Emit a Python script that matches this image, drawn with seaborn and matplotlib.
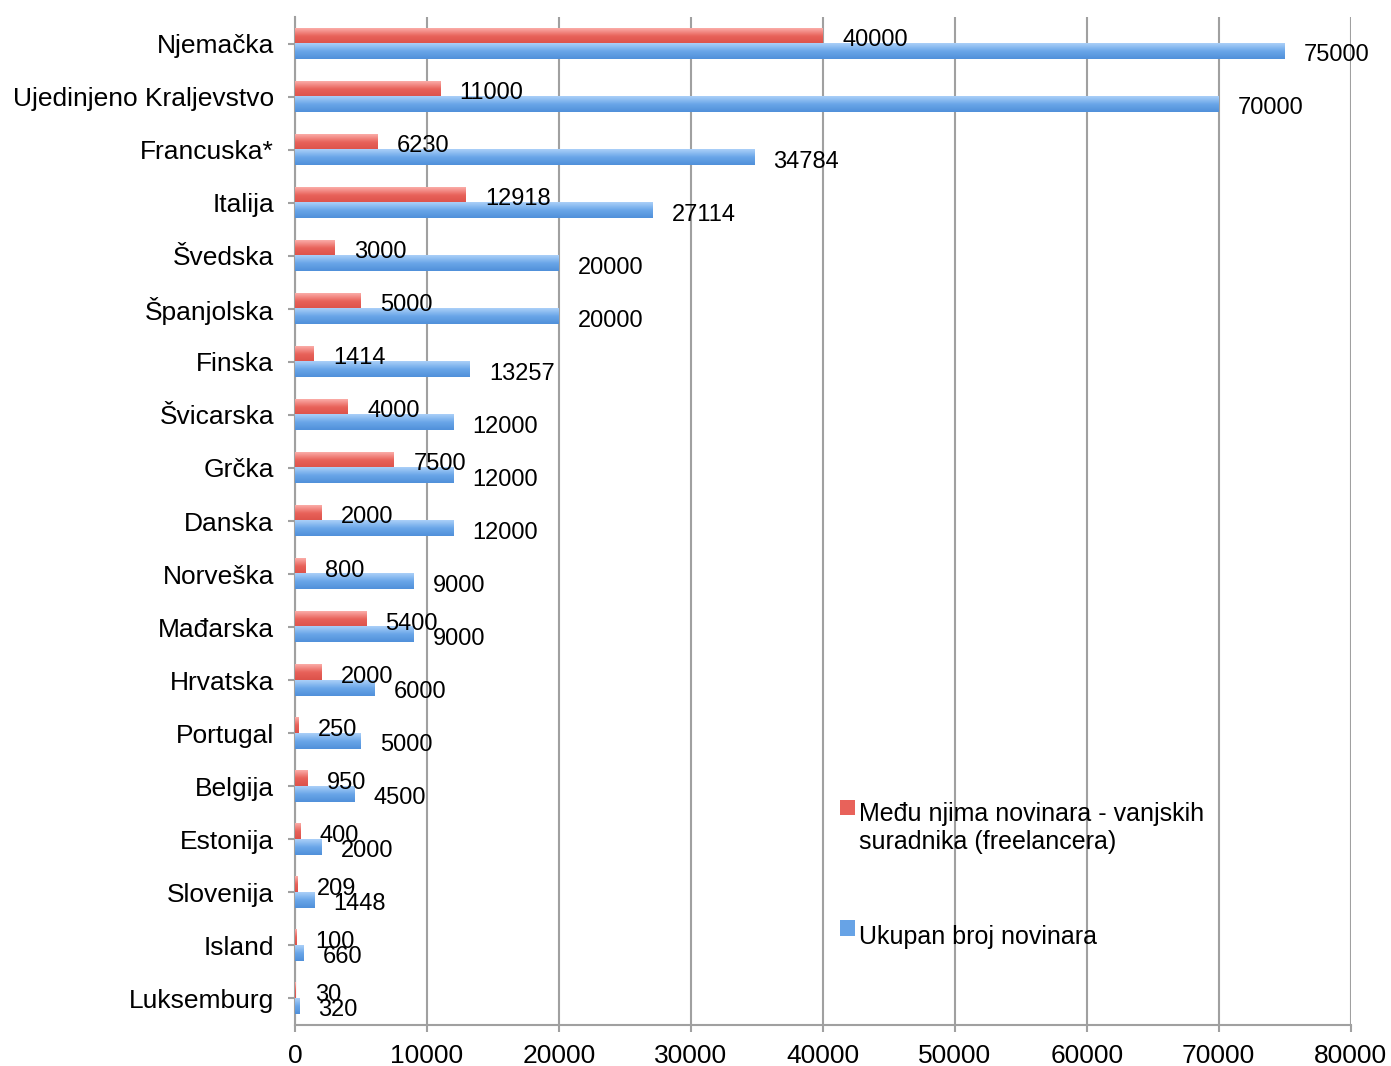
import numpy as np
import pandas as pd
import matplotlib
matplotlib.use("Agg")
import matplotlib.pyplot as plt
from matplotlib.colors import LinearSegmentedColormap
import seaborn as sns

countries = ['Njemačka', 'Ujedinjeno Kraljevstvo', 'Francuska*', 'Italija', 'Švedska',
             'Španjolska', 'Finska', 'Švicarska', 'Grčka', 'Danska', 'Norveška',
             'Mađarska', 'Hrvatska', 'Portugal', 'Belgija', 'Estonija', 'Slovenija',
             'Island', 'Luksemburg']
freelance = [40000, 11000, 6230, 12918, 3000, 5000, 1414, 4000, 7500, 2000, 800,
             5400, 2000, 250, 950, 400, 209, 100, 30]
total = [75000, 70000, 34784, 27114, 20000, 20000, 13257, 12000, 12000, 12000, 9000,
         9000, 6000, 5000, 4500, 2000, 1448, 660, 320]
lab_free = 'Među njima novinara - vanjskih\nsuradnika (freelancera)'
lab_total = 'Ukupan broj novinara'

sns.set_style('white')
plt.rcParams['font.family'] = ['Liberation Sans', 'DejaVu Sans']
plt.rcParams['text.color'] = 'black'

df = pd.DataFrame({'zemlja': countries * 2,
                   'broj': freelance + total,
                   'serija': [lab_free] * len(countries) + [lab_total] * len(countries)})

fig = plt.figure(figsize=(13.91, 10.66), dpi=100)
ax = fig.add_axes([0.212, 0.0385, 0.759, 0.9455])

sns.barplot(data=df, y='zemlja', x='broj', hue='serija', orient='h',
            palette=['#e8625a', '#67a3e6'], width=0.58, ax=ax, zorder=3,
            linewidth=0, saturation=1, errorbar=None)

# gradient fill over the bars + value labels
grads = [LinearSegmentedColormap.from_list('r', ['#fbaca8', '#e8625a', '#dc524a']),
         LinearSegmentedColormap.from_list('b', ['#abd0f8', '#6aa6e8', '#5090da'])]
g = np.linspace(0, 1, 64).reshape(-1, 1)
for cont, cm in zip(ax.containers, grads):
    for p, v in zip(cont.patches, cont.datavalues):
        y0, h, w = p.get_y(), p.get_height(), p.get_width()
        ax.imshow(g, cmap=cm, extent=(0, w, y0 + h, y0), origin='upper',
                  aspect='auto', zorder=3.5, interpolation='bilinear')
        ax.annotate(f'{int(v)}', xy=(w, y0 + h / 2), xytext=(14, -3),
                    textcoords='offset points', ha='left', va='center',
                    fontsize=17, zorder=5)

ax.set_xlim(0, 80000)
ax.set_ylim(18.5, -0.5)
ax.set_xticks(np.arange(0, 80001, 10000))
ax.set_xlabel('')
ax.set_ylabel('')
ax.grid(axis='x', color='#a0a0a0', linewidth=1.5, zorder=0)
ax.grid(axis='y', visible=False)
for s in ['top', 'right']:
    ax.spines[s].set_visible(False)
for s in ['left', 'bottom']:
    ax.spines[s].set_color('#a0a0a0')
    ax.spines[s].set_linewidth(1.5)
ax.tick_params(axis='both', which='major', length=5, width=1.5, color='#a0a0a0',
               labelsize=19, labelcolor='black', left=True, bottom=True)
ax.tick_params(axis='y', pad=10)
ax.tick_params(axis='x', pad=9)

leg = ax.legend(loc='upper left', bbox_to_anchor=(0.507, 0.252), frameon=False,
                fontsize=18, handlelength=0.6, handleheight=0.6, handletextpad=0.15,
                labelspacing=3.4, borderaxespad=0)
for t in leg.get_texts():
    t.set_va('center')

fig.savefig('out.png', dpi=100)
